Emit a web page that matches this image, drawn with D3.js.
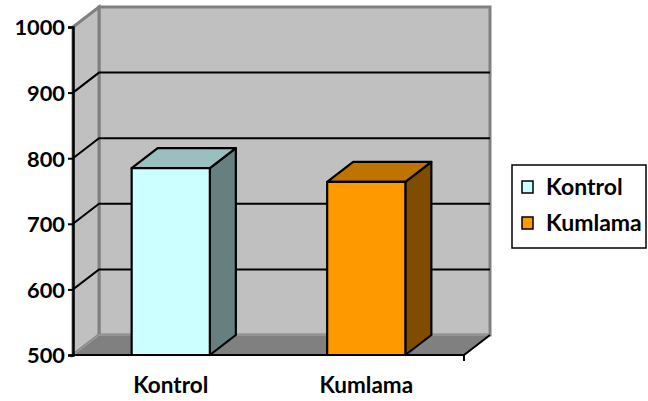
<!DOCTYPE html>
<html>
<head>
<meta charset="utf-8">
<script src="https://cdn.jsdelivr.net/npm/d3@7"></script>
<style>
  html, body { margin: 0; padding: 0; background: #fff; }
  svg { display: block; }
  text { font-family: Lato, "Open Sans", sans-serif; font-weight: bold; fill: #000; }
</style>
</head>
<body>
<svg id="chart" width="648" height="401"></svg>
<script>
// Chart data
const categories = ["Kontrol", "Kumlama"];
const values = [785, 764];
const yTicks = [500, 600, 700, 800, 900, 1000];
const seriesNames = ["Kontrol", "Kumlama"];

// Face colours per series: front, top, side
const frontColors = ["#CCFFFF", "#FF9900"];
const topColors = ["#99BFBF", "#BF7300"];
const sideColors = ["#668080", "#804D00"];

const svg = d3.select("#chart");

// Plot geometry and the oblique depth offset of the 3D box
const plotLeft = 73, plotRight = 464, plotBottom = 355, plotTop = 27;
const dx = 26, dy = -20;

const y = d3.scaleLinear().domain([500, 1000]).range([plotBottom, plotTop]);
const x = d3.scaleBand().domain(categories).range([plotLeft, plotRight])
  .paddingInner(0.6).paddingOuter(0.3);

const poly = pts => "M" + pts.map(p => p.join(",")).join("L") + "Z";

// Back wall
svg.append("path")
  .attr("d", poly([[plotLeft + dx, plotTop + dy], [plotRight + dx, plotTop + dy], [plotRight + dx, plotBottom + dy], [plotLeft + dx, plotBottom + dy]]))
  .attr("fill", "#C0C0C0").attr("stroke", "#808080").attr("stroke-width", 3);

// Side wall
svg.append("path")
  .attr("d", poly([[plotLeft, plotTop], [plotLeft + dx, plotTop + dy], [plotLeft + dx, plotBottom + dy], [plotLeft, plotBottom]]))
  .attr("fill", "#C0C0C0").attr("stroke", "#808080").attr("stroke-width", 3);

// Floor
svg.append("path")
  .attr("d", poly([[plotLeft, plotBottom], [plotLeft + dx, plotBottom + dy], [plotRight + dx, plotBottom + dy], [plotRight, plotBottom]]))
  .attr("fill", "#808080").attr("stroke", "#9A9A9A").attr("stroke-width", 1.5);

// Gridlines on the side and back walls
const grid = yTicks.filter(t => t > 500 && t < 1000);
const gridG = svg.append("g");
grid.forEach(t => {
  gridG.append("path")
    .attr("d", `M${plotLeft},${y(t)}L${plotLeft + dx},${y(t) + dy}L${plotRight + dx},${y(t) + dy}`)
    .attr("fill", "none").attr("stroke", "#000").attr("stroke-width", 2);
});

// Bars as 3D boxes
const bars = svg.append("g");
categories.forEach((c, i) => {
  const x0 = x(c), x1 = x(c) + x.bandwidth();
  const yt = y(values[i]), yb = y(500);
  const g = bars.append("g").attr("stroke", "#000").attr("stroke-width", 2.2).attr("stroke-linejoin", "round");
  g.append("path")
    .attr("d", poly([[x1, yt], [x1 + dx, yt + dy], [x1 + dx, yb + dy], [x1, yb]]))
    .attr("fill", sideColors[i]);
  g.append("path")
    .attr("d", poly([[x0, yt], [x0 + dx, yt + dy], [x1 + dx, yt + dy], [x1, yt]]))
    .attr("fill", topColors[i]);
  g.append("rect")
    .attr("x", x0).attr("y", yt).attr("width", x1 - x0).attr("height", yb - yt)
    .attr("fill", frontColors[i]);
});

// Front floor edge and category axis tick
svg.append("path")
  .attr("d", `M${plotLeft},${plotBottom}L${plotRight},${plotBottom}L${plotRight + dx},${plotBottom + dy}M${plotRight},${plotBottom}L${plotRight},${plotBottom + 6}`)
  .attr("fill", "none").attr("stroke", "#000").attr("stroke-width", 2);

// Value axis
const yAxis = d3.axisLeft(y).tickValues(yTicks).tickSize(5).tickPadding(3).tickFormat(d3.format("d"));
const yg = svg.append("g").attr("transform", `translate(${plotLeft},0)`).call(yAxis);
yg.select(".domain").attr("stroke", "#000").attr("stroke-width", 2.5);
yg.selectAll(".tick line").attr("stroke", "#000").attr("stroke-width", 2);
yg.selectAll(".tick text").attr("font-size", 21.8).attr("font-family", "Lato, sans-serif")
  .attr("font-weight", "bold").attr("fill", "#000").attr("dy", "0.36em");

// Category labels
svg.append("g").selectAll("text").data(categories).join("text")
  .attr("x", d => x(d) + x.bandwidth() / 2)
  .attr("y", 393)
  .attr("text-anchor", "middle")
  .attr("font-size", 22.5)
  .text(d => d);

// Legend
const lg = svg.append("g");
lg.append("rect").attr("x", 512).attr("y", 165).attr("width", 134).attr("height", 83)
  .attr("fill", "#fff").attr("stroke", "#000").attr("stroke-width", 1.5);
seriesNames.forEach((s, i) => {
  const cy = 187 + i * 36;
  lg.append("rect").attr("x", 522).attr("y", cy - 6).attr("width", 11).attr("height", 12)
    .attr("fill", frontColors[i]).attr("stroke", "#000").attr("stroke-width", 1.5);
  lg.append("text").attr("x", 546).attr("y", cy).attr("dy", "0.36em")
    .attr("font-size", 23).text(s);
});
</script>
</body>
</html>
